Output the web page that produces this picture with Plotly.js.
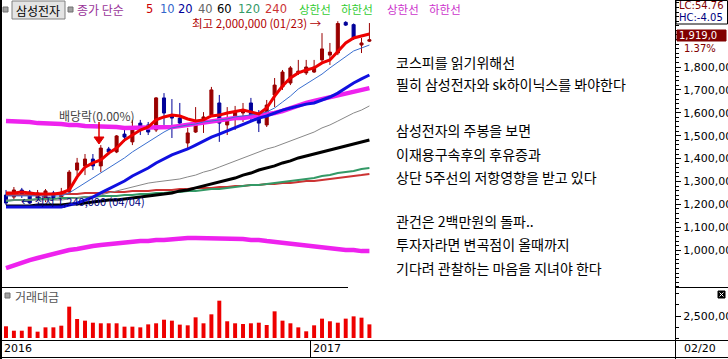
<!DOCTYPE html>
<html><head><meta charset="utf-8">
<script src="https://cdn.plot.ly/plotly-3.0.1.min.js"></script>
<style>html,body{margin:0;padding:0;background:#fff;overflow:hidden}#chart{width:728px;height:359px}</style>
</head><body><div id="chart"></div>
<script>
// ---- data (weekly, Samsung Electronics) ----
const weeks = ['2016-04-04','2016-04-11','2016-04-18','2016-04-25','2016-05-02','2016-05-09','2016-05-16','2016-05-23','2016-05-30','2016-06-06',
 '2016-06-13','2016-06-20','2016-06-27','2016-07-04','2016-07-11','2016-07-18','2016-07-25','2016-08-01','2016-08-08','2016-08-15',
 '2016-08-22','2016-08-29','2016-09-05','2016-09-12','2016-09-19','2016-09-26','2016-10-03','2016-10-10','2016-10-17','2016-10-24',
 '2016-10-31','2016-11-07','2016-11-14','2016-11-21','2016-11-28','2016-12-05','2016-12-12','2016-12-19','2016-12-26','2017-01-02',
 '2017-01-09','2017-01-16','2017-01-23','2017-01-30','2017-02-06','2017-02-13','2017-02-20'];
const openP = [1241000,1232000,1263000,1254000,1228000,1224000,1250000,1232000,1254000,1350000,
 1368000,1398000,1368000,1442000,1429000,1507000,1473000,1555000,1547000,1525000,
 1665000,1586000,1577000,1468000,1516000,1555000,1590000,1643000,1547000,1577000,
 1599000,1643000,1582000,1547000,1678000,1713000,1730000,1774000,1774000,1778000,
 1831000,1852000,1861000,1995000,1985000,1896000,1913000];
const highP = [1263000,1276000,1272000,1263000,1263000,1267000,1259000,1272000,1350000,1403000,
 1420000,1420000,1459000,1451000,1503000,1534000,1569000,1569000,1560000,1669000,
 1686000,1660000,1643000,1534000,1625000,1603000,1713000,1678000,1625000,1630000,
 1643000,1665000,1612000,1656000,1752000,1787000,1804000,1831000,1831000,1831000,
 1948000,1905000,2000000,2000000,1990000,1927000,1992000];
const lowP = [1197000,1219000,1228000,1202000,1215000,1210000,1219000,1219000,1250000,1328000,
 1328000,1350000,1341000,1416000,1424000,1473000,1459000,1503000,1503000,1516000,
 1547000,1490000,1534000,1446000,1512000,1512000,1582000,1473000,1503000,1525000,
 1560000,1560000,1516000,1538000,1625000,1700000,1721000,1765000,1765000,1774000,
 1822000,1809000,1852000,1979000,1918000,1861000,1909000];
const closeP = [1206000,1263000,1241000,1206000,1250000,1259000,1228000,1254000,1341000,1381000,
 1398000,1368000,1446000,1429000,1499000,1494000,1538000,1538000,1516000,1665000,
 1599000,1577000,1555000,1512000,1560000,1582000,1700000,1555000,1577000,1603000,
 1612000,1590000,1555000,1634000,1721000,1778000,1796000,1782000,1800000,1800000,
 1879000,1865000,1990000,1983000,1927000,1905000,1919000];
const ma5 = [1250000,1250000,1254000,1250000,1245000,1245000,1245000,1250000,1263000,1320000,
 1363000,1381000,1394000,1424000,1446000,1481000,1503000,1525000,1538000,1569000,
 1582000,1590000,1586000,1573000,1564000,1569000,1586000,1590000,1599000,1604000,
 1612000,1604000,1595000,1621000,1673000,1717000,1752000,1774000,1787000,1796000,
 1818000,1831000,1870000,1905000,1927000,1935000,1944000];
const ma10 = [1237000,1237000,1237000,1237000,1237000,1237000,1237000,1237000,1250000,1272000,
 1294000,1315000,1337000,1359000,1381000,1403000,1429000,1451000,1473000,1494000,
 1516000,1534000,1542000,1547000,1551000,1560000,1564000,1569000,1573000,1582000,
 1586000,1590000,1595000,1604000,1621000,1647000,1673000,1704000,1726000,1748000,
 1769000,1796000,1822000,1848000,1870000,1883000,1896000];
const ma20 = [1189000,1189000,1189000,1189000,1189000,1189000,1189000,1189000,1197000,1206000,
 1219000,1232000,1250000,1267000,1285000,1302000,1324000,1341000,1359000,1381000,
 1398000,1416000,1429000,1442000,1459000,1477000,1494000,1507000,1521000,1534000,
 1547000,1564000,1577000,1586000,1599000,1612000,1621000,1630000,1638000,1643000,
 1656000,1669000,1686000,1708000,1730000,1748000,1765000];
const ma40 = [1219000,1219000,1219000,1219000,1219000,1219000,1219000,1219000,1224000,1228000,
 1232000,1237000,1241000,1250000,1259000,1267000,1276000,1285000,1293000,1298000,
 1302000,1307000,1311000,1320000,1328000,1341000,1350000,1363000,1376000,1390000,
 1403000,1416000,1429000,1442000,1451000,1464000,1477000,1490000,1503000,1516000,
 1534000,1547000,1564000,1582000,1599000,1612000,1630000];
const ma60 = [1193000,1193000,1193000,1193000,1197000,1197000,1197000,1197000,1202000,1202000,
 1206000,1210000,1215000,1219000,1219000,1224000,1228000,1232000,1237000,1241000,
 1245000,1250000,1259000,1263000,1272000,1280000,1289000,1298000,1307000,1315000,
 1328000,1337000,1350000,1359000,1368000,1381000,1390000,1403000,1411000,1420000,
 1429000,1438000,1446000,1455000,1464000,1473000,1481000];
const ma120 = [1215000,1219000,1219000,1219000,1224000,1224000,1224000,1228000,1228000,1228000,
 1232000,1232000,1237000,1237000,1237000,1241000,1241000,1245000,1245000,1250000,
 1250000,1254000,1254000,1259000,1259000,1263000,1267000,1267000,1272000,1276000,
 1280000,1285000,1285000,1289000,1293000,1298000,1302000,1307000,1311000,1315000,
 1324000,1328000,1337000,1341000,1346000,1355000,1359000];
const ma240 = [1241000,1241000,1241000,1241000,1241000,1245000,1245000,1245000,1245000,1245000,
 1250000,1250000,1250000,1254000,1254000,1254000,1259000,1259000,1259000,1263000,
 1263000,1263000,1267000,1267000,1272000,1272000,1272000,1276000,1276000,1280000,
 1280000,1285000,1285000,1289000,1289000,1293000,1293000,1298000,1302000,1302000,
 1307000,1311000,1315000,1320000,1324000,1328000,1333000];
const bandUpper = [1564000,1564000,1560000,1560000,1555000,1555000,1551000,1551000,1547000,1547000,
 1542000,1542000,1538000,1538000,1538000,1534000,1534000,1534000,1534000,1534000,
 1534000,1538000,1542000,1547000,1555000,1560000,1564000,1569000,1573000,1577000,
 1577000,1582000,1586000,1590000,1599000,1608000,1621000,1634000,1643000,1652000,
 1660000,1669000,1673000,1682000,1691000,1700000,1708000];
const bandLower = [922000,935000,948000,957000,966000,975000,983000,992000,1001000,1005000,
 1014000,1018000,1023000,1027000,1031000,1031000,1036000,1040000,1040000,1045000,
 1045000,1049000,1049000,1053000,1053000,1053000,1053000,1053000,1053000,1049000,
 1049000,1045000,1045000,1040000,1036000,1031000,1027000,1023000,1018000,1014000,
 1009000,1005000,1005000,1001000,1001000,996000,996000];
const tradeValue = [1330000,830000,830000,1290000,720000,1210000,1210000,1400000,3560000,2160000,
 1970000,1740000,1670000,1670000,1670000,1290000,1290000,1210000,1550000,1670000,
 2080000,1970000,1520000,1440000,2350000,1670000,2690000,4240000,1900000,1670000,
 1590000,1670000,1740000,1480000,3030000,1970000,1670000,1210000,760000,1440000,
 2200000,1900000,1740000,2200000,2460000,2310000,1550000];
const priceTicks = [1000000,1100000,1200000,1300000,1400000,1500000,1600000,1700000,1800000];
const valueTicks = [2500000];
const maPeriods = ['5','10','20','40','60','120','240'];
const noteLines = ['코스피를 읽기위해선','필히 삼성전자와 sk하이닉스를 봐야한다','삼성전자의 주봉을 보면','이재용구속후의 후유증과',
 '상단 5주선의 저항영향을 받고 있다','관건은 2백만원의 돌파..','투자자라면 변곡점이 올때까지','기다려 관찰하는 마음을 지녀야 한다'];

// ---- layout helpers (pixel -> paper) ----
const W=728,H=359,ML=2,MR=53,MT=0,MB=19;
const PW=W-ML-MR, PH=H-MT-MB;
const fx = px => (px-ML)/PW;
const fy = py => (H-MB-py)/PH;
const KR = 'Noto Sans CJK KR, sans-serif';
const NUM = 'DejaVu Sans, sans-serif';

function line(t, color, width){
  return {type:'scatter', mode:'lines', x:weeks, y:t, line:{color:color, width:width}, hoverinfo:'skip', showlegend:false};
}
const traces = [
  {type:'candlestick', x:weeks, open:openP, high:highP, low:lowP, close:closeP,
   increasing:{line:{color:'#990000',width:1}, fillcolor:'#990000'},
   decreasing:{line:{color:'#000099',width:1}, fillcolor:'#000099'},
   whiskerwidth:0, hoverinfo:'skip', showlegend:false},
  line(bandUpper,'#EE22EE',4.5),
  line(bandLower,'#EE22EE',4.5),
  line(ma240,'#CC3333',2),
  line(ma120,'#339966',2),
  line(ma60,'#000000',3),
  line(ma40,'#888888',1),
  line(ma20,'#1010E0',3),
  line(ma10,'#3A6FD0',1),
  line(ma5,'#EE0000',3),
  {type:'bar', x:weeks, y:tradeValue, yaxis:'y2', width:0.5, marker:{color:'#EE0000', line:{width:0}}, hoverinfo:'skip', showlegend:false}
];

const shapes = [];
function seg(x0,y0,x1,y1,color,w){ shapes.push({type:'line', xref:'paper', yref:'paper', x0:fx(x0), y0:fy(y0), x1:fx(x1), y1:fy(y1), line:{color:color||'#000', width:w||1}}); }
function rect(x0,y0,x1,y1,fill,lc){ shapes.push({type:'rect', xref:'paper', yref:'paper', x0:fx(x0), y0:fy(y0), x1:fx(x1), y1:fy(y1), fillcolor:fill||'rgba(0,0,0,0)', line:{color:lc||'rgba(0,0,0,0)', width:1}}); }
seg(1,0,1,359,'#000',2);
seg(675.5,0,675.5,359,'#000',1);
seg(0,287.5,348,287.5,'#000',1);
seg(675,287.5,728,287.5,'#000',1);
seg(0,340.5,728,340.5,'#000',1);
seg(0,357.5,728,357.5,'#000',1);
seg(310.5,340,310.5,357,'#000',1);
rect(676,0.5,727.5,24,null,'#000');
rect(677,30,726,41,'#800000','#800000');
rect(3,7,8,12,'#A0A0A0','#707070');
rect(12,1,65,19,'#E4E4E4','#808080');
rect(68,7,73,12,'#A0A0A0','#707070');
rect(5,293,10,298,'#A0A0A0','#707070');
rect(718,291,725,298,'#000','#000');
seg(719.5,292.5,723.5,296.5,'#fff',1);
seg(719.5,296.5,723.5,292.5,'#fff',1);
// ex-dividend marker
seg(99,122,99,138,'#E00000',1.5);
shapes.push({type:'path', xref:'paper', yref:'paper', path:`M ${fx(94)} ${fy(137)} L ${fx(104)} ${fy(137)} L ${fx(99)} ${fy(144)} Z`, fillcolor:'#E00000', line:{color:'#E00000', width:1}});

const ann = [];
function txt(x,y,text,color,size,family,anchor){
  ann.push({xref:'paper', yref:'paper', x:fx(x), y:fy(y), xanchor:anchor||'left', yanchor:'middle', text:text, showarrow:false,
    font:{color:color||'#000', size:size||12, family:family||KR}, borderpad:0});
}
txt(15,10,'삼성전자','#000',12);
txt(76,9,'종가 단순','#993399',12);
const maColors = ['#CC0000','#3366CC','#000099','#666666','#000000','#339966','#CC3333'];
const maX = [145,159,177,197,216,237,264];
maPeriods.forEach((p,i)=>txt(maX[i],9,p,maColors[i],11.5,NUM));
txt(298,9,'상한선','#33CC33',11.5);
txt(340,9,'하한선','#33CC33',11.5);
txt(386,9,'상한선','#CC33CC',11.5);
txt(428,9,'하한선','#CC33CC',11.5);
txt(191,23,'최고 2,000,000 (01/23) →','#B00000',11.5);
txt(58,115,'배당락(0.00%)','#444444',12);
txt(146,201,'← 최저 1,240,000 (04/04)','#000080',11,KR,'right');
txt(678,5.5,'LC:54.76','#800000',10,NUM);
txt(678,17,'HC:-4.05','#000080',10,NUM);
txt(678,35.5,'1,919,0','#FFFFFF',10,NUM);
txt(683,48,'1.37%','#800000',10,NUM);
txt(14,296,'거래대금','#555555',12);
txt(3,349,'2016','#000',11,NUM);
txt(312,349,'2017','#000',11,NUM);
txt(683,349,'02/20','#000',11,NUM);
const noteY = [62,84,130,154,177,221,244,268];
noteLines.forEach((s,i)=>txt(395,noteY[i],s,'#000',14));

const fmt = v => v.toLocaleString('en-US');
const layout = {
  width:W, height:H, margin:{l:ML, r:MR, t:MT, b:MB, pad:0},
  paper_bgcolor:'#fff', plot_bgcolor:'#fff', showlegend:false,
  boxgap:0.45,
  xaxis:{type:'category', range:[-0.506,84.68], showticklabels:false, showgrid:false, zeroline:false, ticks:'', showline:false, rangeslider:{visible:false}, fixedrange:true},
  yaxis:{domain:[53/340,1], range:[839300,2092600], side:'right', tickmode:'array', tickvals:priceTicks, ticktext:priceTicks.map(fmt),
    ticks:'outside', ticklen:5, tickcolor:'#000', tickfont:{family:NUM, size:11, color:'#000'}, showgrid:false, zeroline:false, showline:false,
    minor:{dtick:20000, tick0:0, ticks:'outside', ticklen:3, tickcolor:'#000', showgrid:false}},
  yaxis2:{domain:[0,53/340], range:[-227000,5794000], side:'right', tickmode:'array', tickvals:valueTicks, ticktext:valueTicks.map(fmt),
    ticks:'outside', ticklen:5, tickcolor:'#000', tickfont:{family:NUM, size:11, color:'#000'}, showgrid:false, zeroline:false, showline:false,
    minor:{dtick:1250000, tick0:0, ticks:'outside', ticklen:3, tickcolor:'#000', showgrid:false}},
  shapes:shapes, annotations:ann
};
Plotly.newPlot('chart', traces, layout, {staticPlot:true, displayModeBar:false});
</script></body></html>
